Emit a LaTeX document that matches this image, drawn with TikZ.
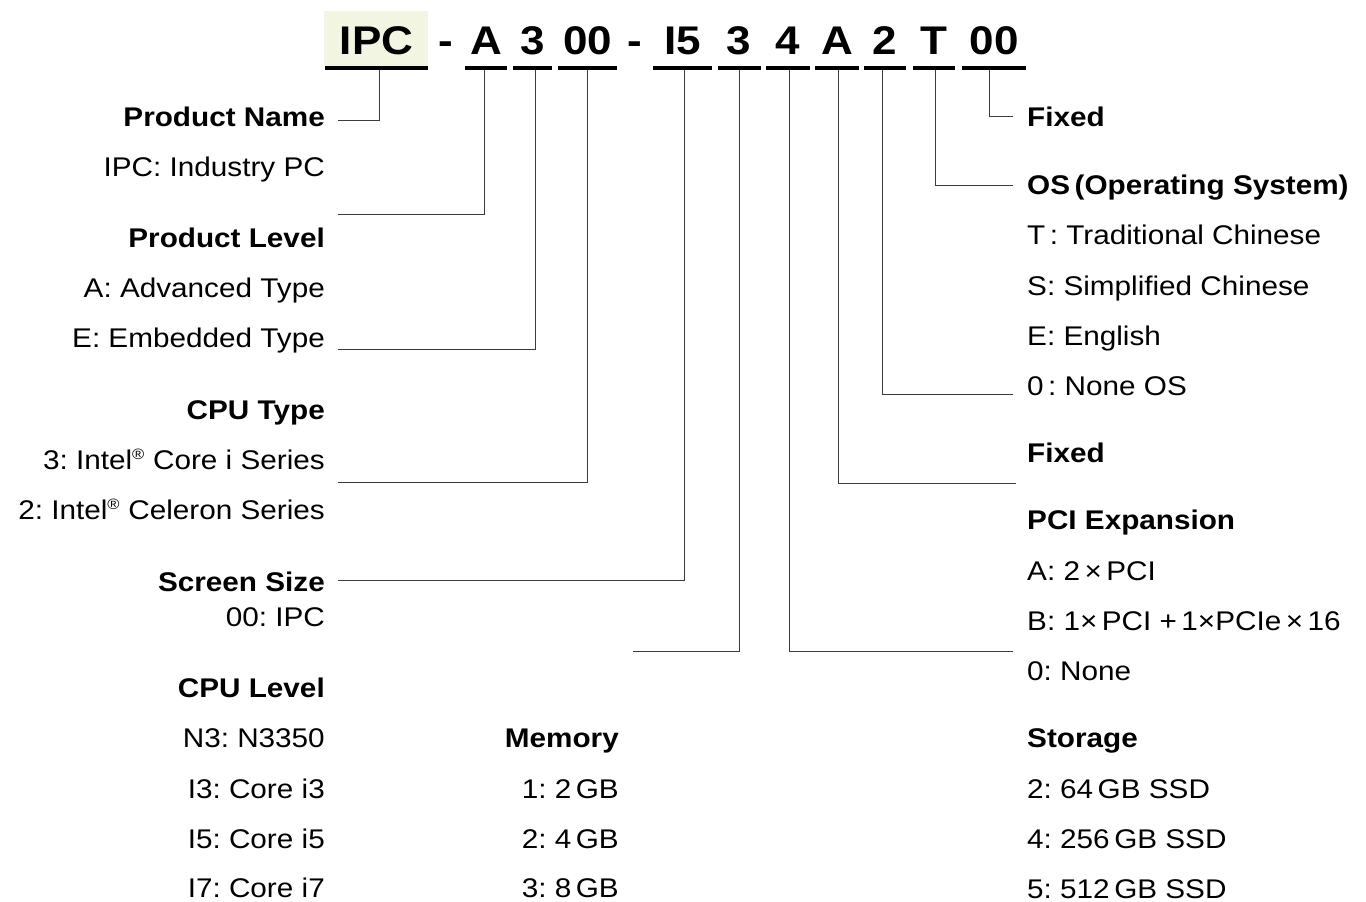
\documentclass[tikz,border=0pt]{standalone}
\usepackage{fontspec}
\setmainfont[FakeStretch=1.1]{Liberation Sans}
\usetikzlibrary{positioning}
\definecolor{codebg}{RGB}{241,245,226}
\definecolor{leadgray}{RGB}{60,60,60}
\tikzset{
  code/.style={font=\fontsize{40}{40}\selectfont\bfseries, inner sep=0pt, anchor=base},
  codebar/.style={fill=black, inner sep=0pt, minimum height=4.5pt},
  lead/.style={leadgray, line width=1pt},
  lhead/.style={font=\fontsize{27}{27}\selectfont\bfseries, inner sep=0pt, anchor=base east},
  litem/.style={font=\fontsize{27}{27}\selectfont, inner sep=0pt, anchor=base east},
  rhead/.style={font=\fontsize{27}{27}\selectfont\bfseries, inner sep=0pt, anchor=base west},
  ritem/.style={font=\fontsize{27}{27}\selectfont, inner sep=0pt, anchor=base west}
}
\newcommand{\reg}{\textsuperscript{\fontsize{15}{15}\selectfont ®}}
\frenchspacing
\begin{document}
\begin{tikzpicture}[x=1pt,y=-1pt]
\useasboundingbox[fill=white] (0,0) rectangle (1366,902);
% Code string
\fill[codebg] (324,11) rectangle (428,66);
\foreach \cx/\w/\txt/\nm in {376.5/103/IPC/IPC, 486/42/A/A, 532.5/39/3/C, 587.5/59/00/S,
    682.5/59/I5/I, 739/43/3/M, 788/44/4/P, 837/44/A/F, 885/42/2/O, 934/42/T/L, 994/64/00/X} {
  \node[code] (t\nm) at (\cx,54) {\txt};
  \node[codebar, minimum width=\w pt] (b\nm) at (\cx,68) {};
}
\node[code] (dash1) at (446,54) {-};
\node[code] (dash2) at (635,54) {-};
% Left column
\foreach \y/\txt/\st [count=\i] in {126/Product Name/lhead, 176/IPC: Industry PC/litem,
    247/Product Level/lhead, 297/A: Advanced Type/litem, 347/E: Embedded Type/litem,
    419/CPU Type/lhead, 469/3: Intel\reg{} Core i Series/litem, 519/2: Intel\reg{} Celeron Series/litem,
    591/Screen Size/lhead, 626/00: IPC/litem,
    697/CPU Level/lhead, 747/N3: N3350/litem, 798/I3: Core i3/litem, 848/I5: Core i5/litem, 897/I7: Core i7/litem} {
  \node[\st] (l\i) at (325,\y) {\txt};
}
% Memory column
\foreach \y/\txt/\st [count=\i] in {747/Memory/lhead, 798/1: 2\,GB/litem, 848/2: 4\,GB/litem, 897/3: 8\,GB/litem} {
  \node[\st] (m\i) at (619,\y) {\txt};
}
% Right column
\foreach \y/\txt/\st [count=\i] in {126/Fixed/rhead, 194/OS\,(Operating System)/rhead,
    244/T\,: Traditional Chinese/ritem, 295/S: Simplified Chinese/ritem, 345/E: English/ritem, 395/0\,: None OS/ritem,
    462/Fixed/rhead, 529/PCI Expansion/rhead, 580/A: 2\,×\,PCI/ritem, 630/B: 1×\,PCI +\,1×PCIe\,×\,16/ritem, 680/0: None/ritem,
    747/Storage/rhead, 798/2: 64\,GB SSD/ritem, 848/4: 256\,GB SSD/ritem, 898/5: 512\,GB SSD/ritem} {
  \node[\st] (r\i) at (1027,\y) {\txt};
}
% Leader ends
\coordinate (ePName) at (338,120);
\coordinate (ePLevel) at (338,214);
\coordinate (eEmbed) at (338,349);
\coordinate (eCPU) at (338,482);
\coordinate (eScreen) at (338,580);
\coordinate (eMid) at (633,651);
\coordinate (ePCI) at (1013,651);
\coordinate (eFixB) at (1016,483);
\coordinate (eNone) at (1013,394);
\coordinate (eOS) at (1013,185);
\coordinate (eFixA) at (1013,116);
% Leaders
\draw[lead] ([xshift=2.5pt]bIPC.south) |- (ePName);
\draw[lead] ([xshift=-2pt]bA.south) |- (ePLevel);
\draw[lead] ([xshift=2.5pt]bC.south) |- (eEmbed);
\draw[lead] (bS.south) |- (eCPU);
\draw[lead] ([xshift=1.5pt]bI.south) |- (eScreen);
\draw[lead] (bM.south) |- (eMid);
\draw[lead] ([xshift=1pt]bP.south) |- (ePCI);
\draw[lead] ([xshift=1pt]bF.south) |- (eFixB);
\draw[lead] ([xshift=-3pt]bO.south) |- (eNone);
\draw[lead] ([xshift=1pt]bL.south) |- (eOS);
\draw[lead] ([xshift=-5pt]bX.south) |- (eFixA);
\end{tikzpicture}
\end{document}
